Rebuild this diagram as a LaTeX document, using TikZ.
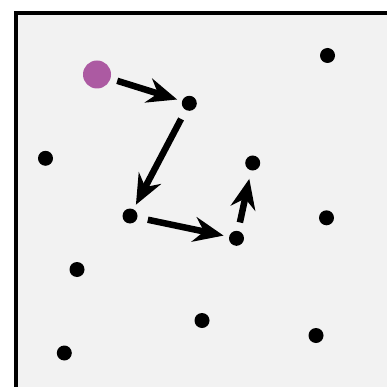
\documentclass[tikz,border=0pt]{standalone}
\usetikzlibrary{arrows.meta}
\definecolor{bgfill}{RGB}{242,242,242}
\definecolor{startpurple}{RGB}{172,90,162}
\tikzset{
  dot/.style={circle,fill=black,inner sep=0pt,minimum size=15pt},
  startdot/.style={circle,fill=startpurple,inner sep=0pt,minimum size=28pt},
  arr/.style={line width=6.5pt,-{Stealth[length=30pt,width=25pt,inset=10pt]}},
}
\begin{document}
\begin{tikzpicture}[x=1pt,y=-1pt]
\useasboundingbox (0,0) rectangle (386,387);
\fill[white] (0,0) rectangle (386,387);
\draw[line width=3.5pt,fill=bgfill] (16,13) rectangle (400,400);
\node[startdot] (p) at (97,74.5) {};
\node[dot] (a) at (189.3,103.3) {};
\node[dot] (b) at (327.5,55.5) {};
\node[dot] (c) at (45.5,158.3) {};
\node[dot] (d) at (252.7,163) {};
\node[dot] (e) at (130,216) {};
\node[dot] (f) at (326.5,217.8) {};
\node[dot] (g) at (236.5,238.3) {};
\node[dot] (h) at (77,269.5) {};
\node[dot] (i) at (202,320.5) {};
\node[dot] (j) at (316,335.5) {};
\node[dot] (k) at (64.3,353) {};
\draw[arr,shorten <=7pt,shorten >=5pt] (p) -- (a);
\draw[arr,shorten <=10pt,shorten >=5pt] (a) -- (e);
\draw[arr,shorten <=10.5pt,shorten >=5.5pt] (e) -- (g);
\draw[arr,shorten <=8.5pt,shorten >=8.5pt] (g) -- (d);
\end{tikzpicture}
\end{document}
